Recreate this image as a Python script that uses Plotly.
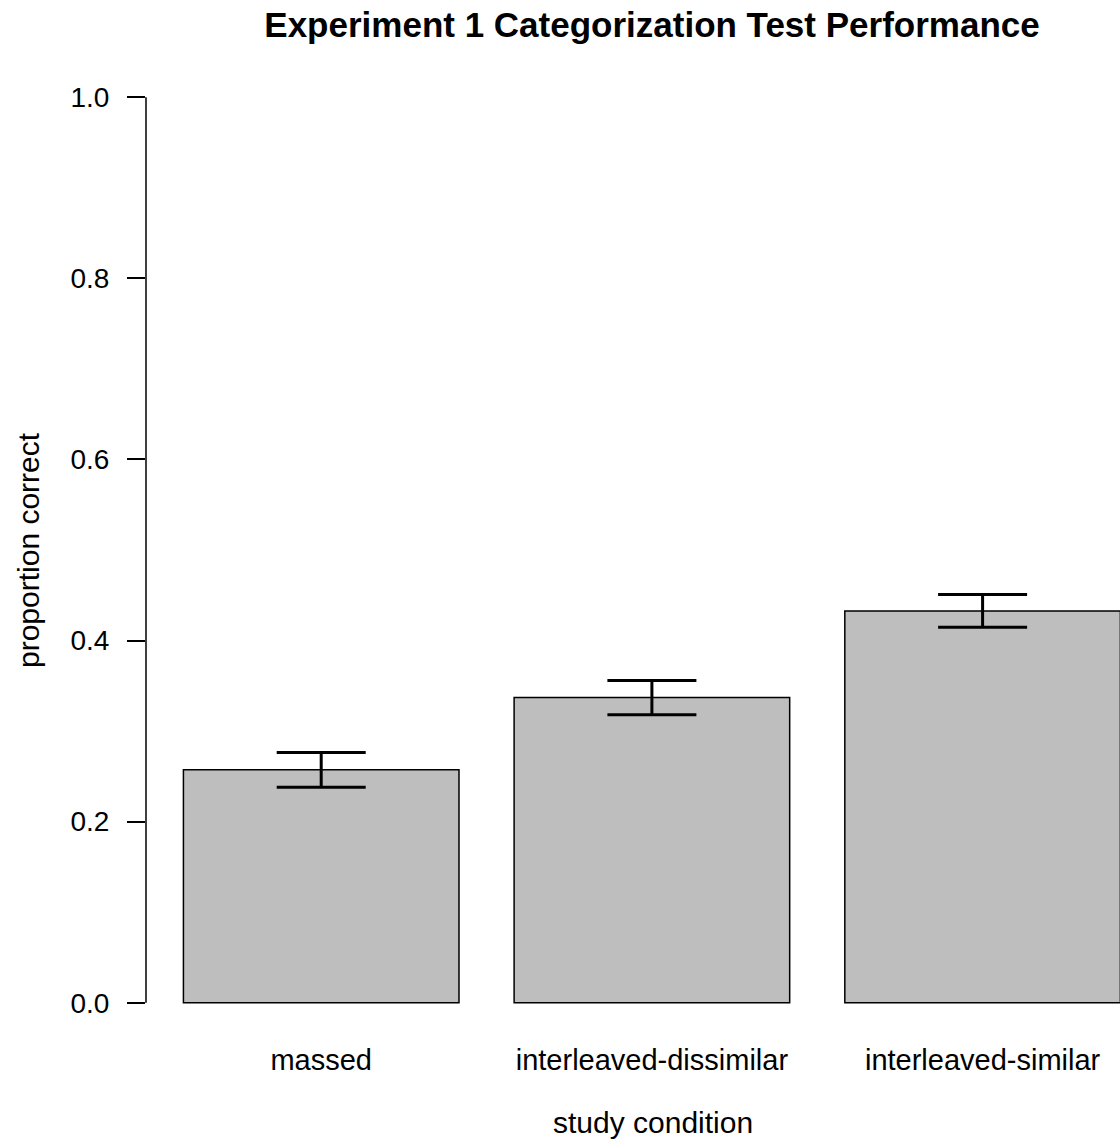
import plotly.graph_objects as go

categories = ["massed", "interleaved-dissimilar", "interleaved-similar"]
means = [0.2572, 0.3370, 0.4327]
errors = [0.0191, 0.0189, 0.0181]
y_ticks = [0.0, 0.2, 0.4, 0.6, 0.8, 1.0]
y_tick_labels = ["0.0", "0.2", "0.4", "0.6", "0.8", "1.0"]

FONT = "Liberation Sans, Arial, Helvetica, sans-serif"

fig = go.Figure()
fig.add_trace(go.Bar(
    x=categories,
    y=means,
    marker=dict(color="#BEBEBE", line=dict(color="black", width=1.5)),
    error_y=dict(type="data", array=errors, visible=True,
                 color="black", thickness=3, width=44.5),
    showlegend=False,
))

W, H = 1120, 1146
ml, mr, mt, mb = 146, 0, 61, 107
plot_w = W - ml - mr
plot_h = H - mt - mb

fig.update_layout(
    width=W, height=H,
    margin=dict(l=ml, r=mr, t=mt, b=mb, pad=0),
    paper_bgcolor="white", plot_bgcolor="white",
    bargap=0.1667,
    font=dict(family=FONT, size=28, color="black"),
    title=dict(text="<b>Experiment 1 Categorization Test Performance</b>",
               font=dict(family=FONT, size=35, color="black"),
               x=652 / W, xref="container", xanchor="center",
               y=1 - 25 / H, yref="container", yanchor="middle"),
    xaxis=dict(range=[-0.5298, 2.4155], showline=False, showgrid=False,
               zeroline=False, ticks="", tickfont=dict(size=29),
               ticklabelstandoff=1),
    yaxis=dict(range=[-0.04, 1.04], tickvals=y_ticks, ticktext=y_tick_labels,
               showline=False, showgrid=False, zeroline=False,
               ticks="outside", ticklen=18, tickwidth=1.5, tickcolor="black",
               tickfont=dict(size=28), ticklabelstandoff=12),
    shapes=[dict(type="line", xref="paper", yref="y", x0=0, x1=0,
                 y0=y_ticks[0], y1=y_ticks[-1],
                 line=dict(color="black", width=1.5))],
    annotations=[
        dict(text="proportion correct", textangle=-90, showarrow=False,
             xref="paper", yref="paper", x=(28 - ml) / plot_w, y=0.5,
             xanchor="center", yanchor="middle", font=dict(size=30)),
        dict(text="study condition", showarrow=False,
             xref="paper", yref="paper", x=(653 - ml) / plot_w,
             y=-(1122 - (mt + plot_h)) / plot_h,
             xanchor="center", yanchor="middle", font=dict(size=30)),
    ],
)

fig.write_html("out.html")
